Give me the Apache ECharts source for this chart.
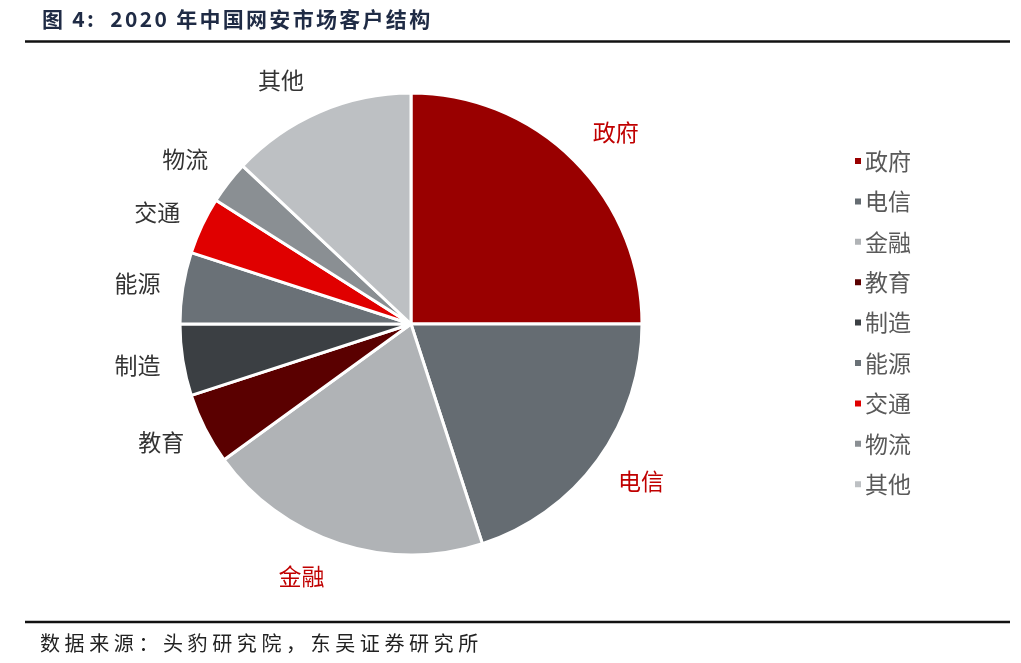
<!DOCTYPE html>
<html>
<head>
<meta charset="utf-8">
<script src="https://cdn.jsdelivr.net/npm/echarts@6/dist/echarts.min.js"></script>
<style>html,body{margin:0;padding:0;background:#fff}#c{width:1021px;height:663px}</style>
</head>
<body>
<div id="c"></div>
<script>
var categories = ['政府','电信','金融','教育','制造','能源','交通','物流','其他'];
var values = [25, 20, 20, 5, 5, 5, 4, 3, 13];
var colors = ['#990000','#656C72','#B0B3B6','#5A0000','#3B3F43','#6A7177','#E00000','#8A8F93','#BDC0C3'];
var labelColors = ['#C00000','#C00000','#C00000','#333333','#333333','#333333','#333333','#333333','#333333'];
// small label nudges (style only)
var labelNudges = [[9,4],[6,-6],[-24,-11],[-3,-7],[0,-2],[0,3],[-3,6],[-7,5],[-20,10]];
var titleText = '图 4:  2020 年中国网安市场客户结构';
var sourceText = '数据来源：头豹研究院，东吴证券研究所';

var measureCtx = document.createElement('canvas').getContext('2d');
function spacedText(str, x, y, font, spacing, fill) {
  measureCtx.font = font;
  var els = [];
  var cx = x;
  for (var i = 0; i < str.length; i++) {
    var ch = str[i];
    if (ch !== ' ') {
      els.push({type: 'text', x: cx, y: y, style: {text: ch, font: font, fill: fill, textVerticalAlign: 'middle'}});
    }
    cx += measureCtx.measureText(ch).width + spacing;
  }
  return {type: 'group', children: els};
}

var chart = echarts.init(document.getElementById('c'));
var pieData = categories.map(function(n, i){ return {name: n, value: values[i], itemStyle: {color: colors[i]}}; });
var labelData = categories.map(function(n, i){ return {name: n, value: values[i], label: {color: labelColors[i], offset: labelNudges[i]}}; });
chart.setOption({
  animation: false,
  legend: {
    orient: 'vertical', left: 848, top: 143,
    data: categories,
    icon: 'rect', itemWidth: 8, itemHeight: 8, itemGap: 14.4,
    textStyle: {fontFamily: 'Noto Sans CJK SC', fontSize: 23, color: '#595959', lineHeight: 26, padding: [0,0,0,-2]}
  },
  graphic: [
    spacedText(titleText, 42, 19, 'bold 21px "Noto Sans CJK SC"', 2.3, '#1F2B45'),
    {type: 'line', shape: {x1: 25, y1: 41.5, x2: 1010, y2: 41.5}, style: {stroke: '#111', lineWidth: 2.5}},
    {type: 'line', shape: {x1: 25, y1: 622, x2: 1010, y2: 622}, style: {stroke: '#111', lineWidth: 2.5}},
    spacedText(sourceText, 40, 643, '20px "Noto Sans CJK SC"', 4.6, '#222')
  ],
  series: [
    {
      type: 'pie', center: [411, 324], radius: [0, 231], startAngle: 90, clockwise: true,
      label: {show: false}, labelLine: {show: false},
      itemStyle: {borderColor: '#fff', borderWidth: 3},
      data: pieData
    },
    {
      type: 'pie', center: [411, 324], radius: [254, 294], startAngle: 90, clockwise: true,
      silent: true, legendHoverLink: false,
      itemStyle: {color: 'rgba(0,0,0,0)'},
      label: {show: true, position: 'inside', fontFamily: 'Noto Sans CJK SC', fontSize: 23, formatter: '{b}'},
      labelLine: {show: false},
      data: labelData
    }
  ]
});
</script>
</body>
</html>
